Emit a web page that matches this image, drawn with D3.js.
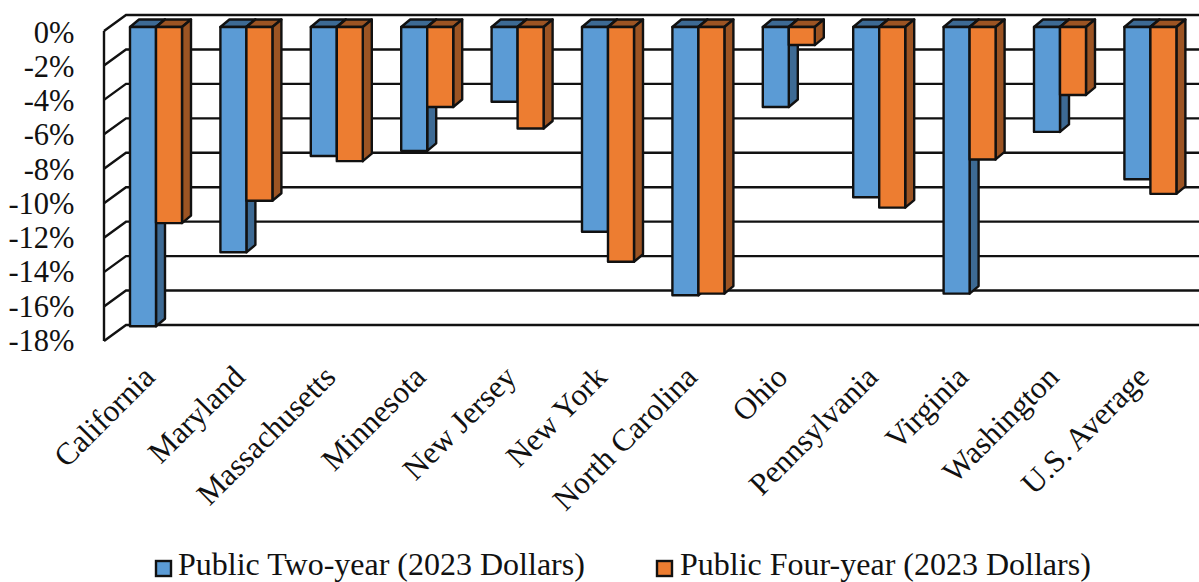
<!DOCTYPE html>
<html><head><meta charset="utf-8">
<script src="https://cdn.jsdelivr.net/npm/d3@7"></script>
<style>html,body{margin:0;padding:0;background:#fff;overflow:hidden}svg{display:block}text{font-family:"Liberation Serif","Times New Roman",serif;fill:#111}</style>
</head><body><div id="c"></div>
<script>
const categories=["California","Maryland","Massachusetts","Minnesota","New Jersey","New York","North Carolina","Ohio","Pennsylvania","Virginia","Washington","U.S. Average"];
const twoYear=[-17.4,-13.1,-7.5,-7.2,-4.35,-11.9,-15.6,-4.65,-9.9,-15.5,-6.1,-8.85];
const fourYear=[-11.4,-10.1,-7.8,-4.65,-5.9,-13.65,-15.5,-1.05,-10.5,-7.7,-3.95,-9.7];
const seriesNames=["Public Two-year (2023 Dollars)","Public Four-year (2023 Dollars)"];
const tickValues=[0,-2,-4,-6,-8,-10,-12,-14,-16,-18];

const W=1199,H=582;
const fills=["#5B9BD5","#ED7D31"],sides=["#3D6A94","#9C5423"];
const depthX=9,depthY=7.5;
const svg=d3.select("#c").append("svg").attr("width",W).attr("height",H);
const yBack=d3.scaleLinear().domain([0,-18]).range([15,325]);
const yFront=d3.scaleLinear().domain([0,-18]).range([31,341]);
const yBar=d3.scaleLinear().domain([0,-18]).range([27,336.6]);
const yLabel=d3.scaleLinear().domain([0,-18]).range([42.5,351]);
const x0=d3.scaleBand().domain(categories).range([130-32.2,130-32.2+90.4*12]).paddingInner(0).paddingOuter(0);
const x1=d3.scaleBand().domain([0,1]).range([32.2,32.2+52]);
const wallL=104,wallB=126;

// walls and gridlines
const grid=svg.append("g").attr("stroke","#111").attr("stroke-width",2.4).attr("fill","none");
tickValues.forEach(t=>{
  grid.append("path").attr("d",`M${wallL},${yFront(t)}L${wallB},${yBack(t)}L${W},${yBack(t)}`).attr("stroke-linejoin","miter");
});
grid.append("line").attr("x1",wallL).attr("x2",wallL).attr("y1",yFront(0)).attr("y2",yFront(-18));

// tick labels
svg.append("g").selectAll("text").data(tickValues).join("text")
  .attr("x",74.5).attr("y",t=>yLabel(t)).attr("text-anchor","end").attr("font-size",30.5).text(t=>t+"%");

// bars
const bars=svg.append("g").attr("stroke","#111").attr("stroke-width",2.4).attr("stroke-linejoin","round");
categories.forEach((c,i)=>{
  [twoYear,fourYear].forEach((vals,s)=>{
    const xl=x0(c)+x1(s),w=x1.bandwidth(),xr=xl+w,yt=yBar(0),yb=yBar(vals[i]);
    const g=bars.append("g");
    g.append("path").attr("fill",sides[s]).attr("d",`M${xl},${yt}L${xl+depthX},${yt-depthY}L${xr+depthX},${yt-depthY}L${xr},${yt}Z`);
    g.append("path").attr("fill",sides[s]).attr("d",`M${xr},${yt}L${xr+depthX},${yt-depthY}L${xr+depthX},${yb-depthY}L${xr},${yb}Z`);
    g.append("rect").attr("fill",fills[s]).attr("x",xl).attr("y",yt).attr("width",w).attr("height",yb-yt);
  });
});

// category labels
svg.append("g").selectAll("text").data(categories).join("text")
  .attr("text-anchor","end").attr("font-size",31.3)
  .attr("transform",c=>`translate(${x0(c)+x1(1)+0.5},${379}) rotate(-45)`).text(c=>c);

// legend
const legendX=[156,657],legendTextX=[178,680];
seriesNames.forEach((n,s)=>{
  svg.append("rect").attr("x",legendX[s]).attr("y",561).attr("width",15).attr("height",15)
    .attr("fill",fills[s]).attr("stroke","#111").attr("stroke-width",2.4);
  svg.append("text").attr("x",legendTextX[s]).attr("y",575).attr("font-size",32).text(n);
});
</script></body></html>
